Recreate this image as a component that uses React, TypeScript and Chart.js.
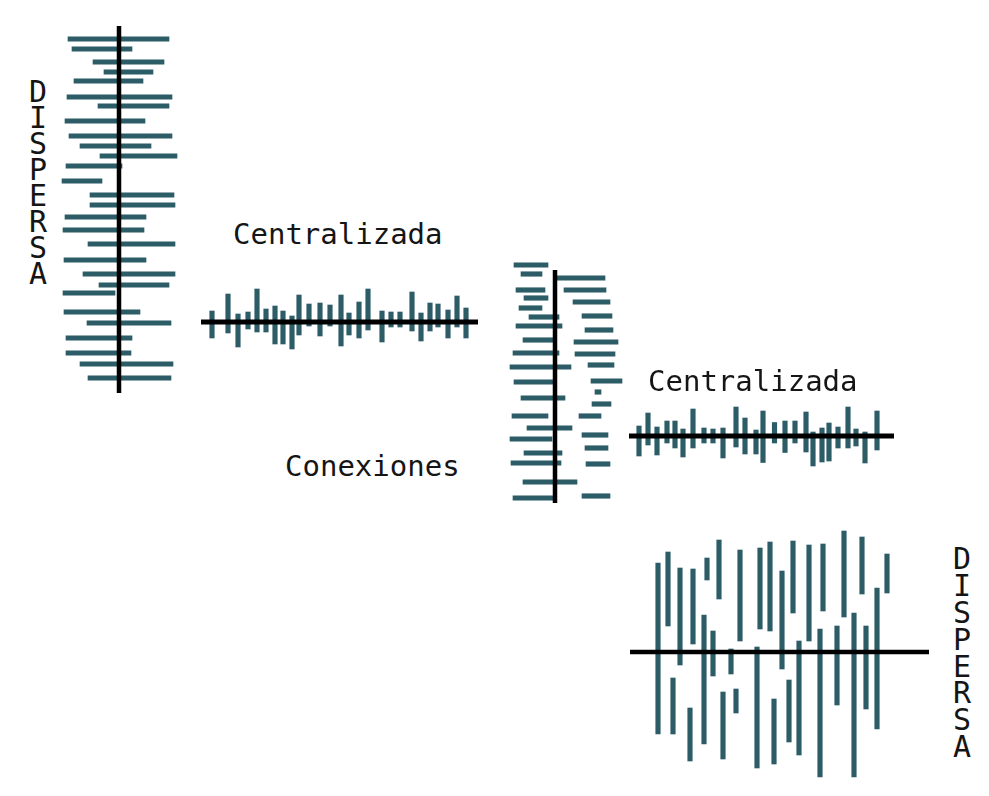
import React, { useEffect, useRef } from "react";
import { Chart, registerables } from "chart.js";

Chart.register(...registerables);

const BAR_COLOR = "#2c5d67";
const AXIS_COLOR = "#000000";
const FONT = '"DejaVu Sans Mono", "Liberation Mono", monospace';

// ---------- Panel 1: "DISPERSA" (left) — horizontal bars on a vertical axis ----------
const disperseLeftPos = [1.3, 2.3, 3.6, 4.6, 5.5, 7.1, 8.0, 9.5, 11.0, 12.0, 13.0, 14.0, 15.5, 16.9, 17.9, 19.1, 20.4, 21.8, 23.4, 24.8, 25.9, 26.7, 28.6, 29.7, 31.2, 32.7, 33.8, 35.2];
const disperseLeftLow = [-5.1, -4.7, -2.6, -1.5, -4.5, -5.2, -2.1, -5.4, -5.0, -3.9, -1.9, -5.3, -5.7, -2.9, -2.9, -5.4, -5.6, -3.1, -5.5, -3.6, -2.0, -5.6, -5.5, -3.2, -5.3, -5.3, -3.9, -3.1];
const disperseLeftHigh = [5.0, 1.3, 4.5, 3.4, 2.4, 5.3, 5.0, 2.6, 5.3, 3.2, 5.8, 0.3, -1.7, 5.5, 5.6, 2.7, 2.5, 5.6, 2.7, 5.6, 5.0, -0.4, 2.1, 5.2, 1.3, 1.2, 5.4, 5.2];

// ---------- Panel 2: "Centralizada" (upper) — vertical bars on a horizontal axis ----------
const central1Pos = [1.1, 2.7, 3.7, 4.7, 5.6, 6.5, 7.4, 8.2, 9.1, 9.8, 10.8, 11.9, 12.9, 14.0, 14.8, 15.8, 16.7, 18.1, 19.0, 19.9, 21.1, 22.0, 22.9, 23.7, 24.7, 25.6, 26.5];
const central1Low = [-1.6, -1.1, -2.5, -0.7, -1.0, -1.0, -2.2, -2.2, -2.7, -1.3, -0.4, -1.4, -0.4, -2.4, -1.3, -1.6, -0.8, -2.0, -0.5, -0.5, -0.9, -1.9, -0.9, -0.5, -1.6, -0.5, -1.6];
const central1High = [1.1, 2.8, 0.8, 1.0, 3.3, 1.3, 1.6, 1.1, 0.6, 2.7, 1.8, 1.9, 1.7, 2.7, 0.9, 2.0, 3.3, 1.1, 1.0, 1.0, 3.0, 0.9, 1.9, 1.8, 1.2, 2.6, 1.4];

// ---------- Panel 3: "Conexiones" — two columns of horizontal bars ----------
const connLeftPos = [-0.5, 0.4, 2.0, 2.8, 3.8, 4.7, 5.6, 7.0, 8.3, 9.7, 11.2, 12.8, 14.6, 15.8, 16.9, 18.3, 19.3, 21.2, 22.8];
const connLeftLow = [-4.1, -3.4, -3.9, -3.1, -3.6, -2.6, -3.9, -3.2, -4.2, -4.5, -4.1, -3.4, -4.3, -2.8, -4.5, -3.1, -4.4, -3.2, -4.2];
const connLeftHigh = [-0.7, -1.3, -1.0, -0.7, -1.3, 0.4, 0.7, -0.2, 0.4, 1.6, -0.2, 1.0, -0.7, 1.7, -0.3, 0.7, 0.6, 2.2, -0.2];
const connRightPos = [0.8, 2.0, 3.2, 4.6, 6.0, 7.2, 8.4, 9.5, 11.1, 12.2, 13.4, 14.6, 16.5, 17.8, 19.4, 22.6];
const connRightLow = [0.2, 0.9, 1.8, 2.7, 3.0, 1.9, 2.0, 3.3, 3.6, 4.0, 3.7, 2.4, 2.7, 3.0, 3.1, 2.7];
const connRightHigh = [5.0, 5.1, 5.5, 5.7, 5.8, 6.3, 6.0, 5.9, 6.7, 4.6, 5.6, 4.6, 5.3, 5.3, 5.5, 5.5];

// ---------- Panel 4: "Centralizada" (lower) — vertical bars on a horizontal axis ----------
const central2Pos = [1.0, 1.9, 2.8, 3.8, 4.6, 5.4, 6.4, 7.5, 8.4, 9.4, 10.7, 11.6, 12.7, 13.4, 14.55, 15.6, 16.6, 17.7, 18.4, 19.3, 20.0, 20.9, 21.9, 22.7, 23.6, 24.8];
const central2Low = [-2.0, -0.9, -1.9, -0.7, -1.2, -2.1, -1.2, -0.7, -0.7, -2.2, -1.1, -1.8, -1.8, -2.65, -0.7, -1.65, -0.7, -1.6, -3.0, -2.6, -2.5, -1.2, -1.2, -1.0, -2.7, -1.4];
const central2High = [1.0, 2.3, 0.9, 1.5, 1.5, 0.7, 2.7, 0.8, 0.7, 0.8, 2.9, 1.8, 0.6, 2.5, 1.35, 1.5, 1.5, 2.4, 0.4, 0.8, 1.3, 0.9, 2.9, 0.7, 0.4, 2.5];

// ---------- Panel 5: "DISPERSA" (right) — long vertical bars on a horizontal axis ----------
const disperseRightPos = [2.8, 3.8, 4.3, 5.0, 6.0, 6.3, 7.4, 7.7, 8.3, 8.9, 9.3, 10.1, 10.6, 11.0, 12.7, 13.0, 14.0, 14.4, 15.2, 15.9, 16.3, 16.9, 17.9, 19.0, 19.3, 20.7, 21.4, 22.4, 23.2, 23.6, 24.7, 25.7];
const disperseRightLow = [-8.2, 2.6, -8.2, -1.3, -10.9, 0.8, -9.2, 7.2, -2.4, 5.3, -10.7, -2.2, -6.1, 1.1, -11.6, 2.3, 2.1, -11.2, -1.7, -9.0, 3.9, -10.3, 1.1, -12.5, 4.1, -5.3, 3.5, -12.5, 5.8, -5.7, -7.7, 5.9];
const disperseRightHigh = [8.9, 10.0, -2.6, 8.4, -5.6, 8.3, 3.7, 9.4, 2.1, 11.2, -4.0, 0.3, -3.7, 10.2, 0.5, 10.4, 11.0, -4.7, 8.1, -2.8, 11.1, 1.1, 10.7, 2.3, 10.8, 2.6, 12.1, 3.9, 11.5, 2.6, 6.4, 9.8];

// ---------- Labels ----------
const labelCentral = "Centralizada";
const labelConn = "Conexiones";
const labelDisperse = "DISPERSA";

type Orientation = "x" | "y";

const axisLinePlugin = {
  id: "axisLine",
  afterDatasetsDraw(chart: any, _args: any, opts: any) {
    if (!opts || opts.from === undefined) return;
    const ctx = chart.ctx;
    const xs = chart.scales.x;
    const ys = chart.scales.y;
    ctx.save();
    ctx.strokeStyle = opts.color;
    ctx.lineWidth = opts.width;
    ctx.lineCap = "butt";
    ctx.beginPath();
    if (chart.options.indexAxis === "y") {
      const x = xs.getPixelForValue(0);
      ctx.moveTo(x, ys.getPixelForValue(opts.from));
      ctx.lineTo(x, ys.getPixelForValue(opts.to));
    } else {
      const y = ys.getPixelForValue(0);
      ctx.moveTo(xs.getPixelForValue(opts.from), y);
      ctx.lineTo(xs.getPixelForValue(opts.to), y);
    }
    ctx.stroke();
    ctx.restore();
  },
};

interface Series {
  pos: number[];
  low: number[];
  high: number[];
}

interface PanelSpec {
  indexAxis: Orientation;
  series: Series[];
  posMin: number;
  posMax: number;
  valMin: number;
  valMax: number;
  lineFrom: number;
  lineTo: number;
  lineWidth: number;
}

function buildConfig(spec: PanelSpec): any {
  const horiz = spec.indexAxis === "y";
  const datasets = spec.series.map((s) => ({
    data: s.pos.map((p, i) =>
      horiz ? { y: p, x: [s.low[i], s.high[i]] } : { x: p, y: [s.low[i], s.high[i]] }
    ),
    backgroundColor: BAR_COLOR,
    borderWidth: 0,
    barThickness: 4.5,
    grouped: false,
  }));
  const posScale = {
    type: "linear",
    display: false,
    min: spec.posMin,
    max: spec.posMax,
    offset: false,
    reverse: horiz,
  };
  const valScale = {
    type: "linear",
    display: false,
    min: spec.valMin,
    max: spec.valMax,
    beginAtZero: false,
  };
  return {
    type: "bar",
    data: { datasets },
    options: {
      indexAxis: spec.indexAxis,
      responsive: false,
      animation: false,
      events: [],
      layout: { padding: 0 },
      scales: horiz ? { x: valScale, y: posScale } : { x: posScale, y: valScale },
      plugins: {
        legend: { display: false },
        tooltip: { enabled: false },
        axisLine: { from: spec.lineFrom, to: spec.lineTo, width: spec.lineWidth, color: AXIS_COLOR },
      },
    },
    plugins: [axisLinePlugin],
  };
}

function Panel(props: { left: number; top: number; width: number; height: number; spec: PanelSpec }) {
  const ref = useRef<HTMLCanvasElement | null>(null);
  useEffect(() => {
    if (!ref.current) return;
    const chart = new Chart(ref.current, buildConfig(props.spec));
    return () => chart.destroy();
  }, []);
  return (
    <div style={{ position: "absolute", left: props.left, top: props.top, width: props.width, height: props.height }}>
      <canvas ref={ref} width={props.width} height={props.height} style={{ width: props.width, height: props.height }} />
    </div>
  );
}

function Label(props: { text: string; left: number; top: number }) {
  return (
    <div
      style={{
        position: "absolute",
        left: props.left,
        top: props.top,
        fontFamily: FONT,
        fontSize: 29,
        lineHeight: "29px",
        color: "#151515",
        whiteSpace: "nowrap",
      }}
    >
      {props.text}
    </div>
  );
}

function VerticalWord(props: { text: string; left: number; top: number; pitch: number }) {
  return (
    <div style={{ position: "absolute", left: props.left, top: props.top, width: 20 }}>
      {props.text.split("").map((ch, i) => (
        <div
          key={i}
          style={{
            height: props.pitch,
            lineHeight: props.pitch + "px",
            fontFamily: FONT,
            fontSize: 30,
            color: "#151515",
            textAlign: "center",
          }}
        >
          {ch}
        </div>
      ))}
    </div>
  );
}

const panel1: PanelSpec = {
  indexAxis: "y",
  series: [{ pos: disperseLeftPos, low: disperseLeftLow, high: disperseLeftHigh }],
  posMin: -0.6, posMax: 37.4, valMin: -6.9, valMax: 7.1,
  lineFrom: 0, lineTo: 36.7, lineWidth: 4.5,
};
const panel2: PanelSpec = {
  indexAxis: "x",
  series: [{ pos: central1Pos, low: central1Low, high: central1High }],
  posMin: -0.6, posMax: 28.4, valMin: -3.8, valMax: 4.2,
  lineFrom: 0, lineTo: 27.7, lineWidth: 5,
};
const panel3: PanelSpec = {
  indexAxis: "y",
  series: [
    { pos: connLeftPos, low: connLeftLow, high: connLeftHigh },
    { pos: connRightPos, low: connRightLow, high: connRightHigh },
  ],
  posMin: -1.5, posMax: 24.0, valMin: -5.5, valMax: 8.0,
  lineFrom: 0, lineTo: 23.3, lineWidth: 4.5,
};
const panel4: PanelSpec = {
  indexAxis: "x",
  series: [{ pos: central2Pos, low: central2Low, high: central2High }],
  posMin: -0.9, posMax: 27.6, valMin: -3.9, valMax: 4.1,
  lineFrom: 0, lineTo: 26.5, lineWidth: 5,
};
const panel5: PanelSpec = {
  indexAxis: "x",
  series: [{ pos: disperseRightPos, low: disperseRightLow, high: disperseRightHigh }],
  posMin: -1.0, posMax: 31.0, valMin: -13.8, valMax: 13.2,
  lineFrom: 0, lineTo: 29.9, lineWidth: 4.5,
};

export default function App() {
  return (
    <div style={{ position: "absolute", left: 0, top: 0, width: 989, height: 796, background: "#ffffff", overflow: "hidden" }}>
      <Panel left={50} top={20} width={140} height={380} spec={panel1} />
      <Panel left={195} top={280} width={290} height={80} spec={panel2} />
      <Panel left={500} top={255} width={135} height={255} spec={panel3} />
      <Panel left={620} top={395} width={285} height={80} spec={panel4} />
      <Panel left={620} top={520} width={320} height={270} spec={panel5} />
      <Label text={labelCentral} left={233} top={219.5} />
      <Label text={labelCentral} left={648} top={366.5} />
      <Label text={labelConn} left={285} top={452} />
      <VerticalWord text={labelDisperse} left={28} top={78.5} pitch={26} />
      <VerticalWord text={labelDisperse} left={952} top={546} pitch={26.9} />
    </div>
  );
}
